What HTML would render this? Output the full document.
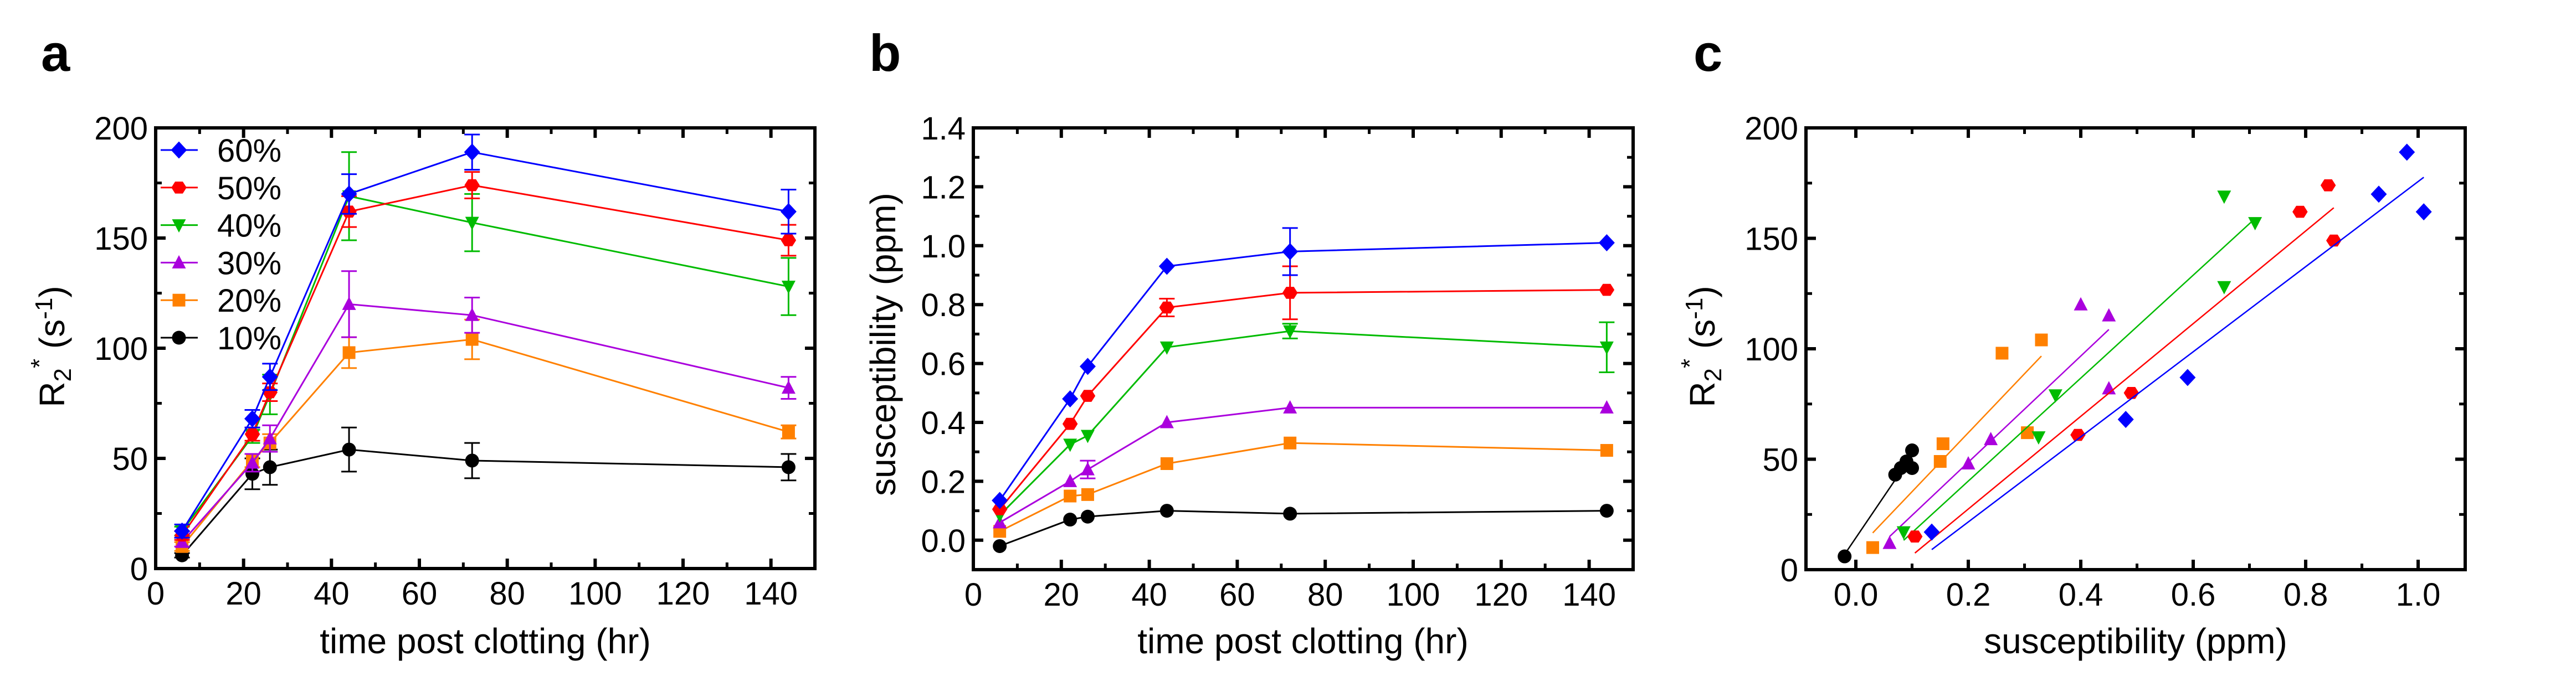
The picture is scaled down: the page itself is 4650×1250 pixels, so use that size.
<!DOCTYPE html>
<html><head><meta charset="utf-8"><style>
html,body{margin:0;padding:0;background:#fff;}
svg{display:block;font-family:"Liberation Sans",Arial,sans-serif;}
</style></head><body>
<svg id="fig" width="4650" height="1250" viewBox="0 0 4650 1250" xmlns="http://www.w3.org/2000/svg">
<rect x="0" y="0" width="4650" height="1250" fill="#fff"/>
</svg>
<script>
const times = [6, 22, 26, 44, 72, 144];
const seriesLabels = ['10%', '20%', '30%', '40%', '50%', '60%'];
const r2_10 = [6, 43, 46, 54, 49, 46];
const r2_20 = [10, 49, 57, 98, 104, 62];
const r2_30 = [12, 48, 59, 120, 115, 82];
const r2_40 = [17, 60, 79, 169, 157, 128];
const r2_50 = [15, 61, 80, 162, 174, 149];
const r2_60 = [17, 68, 87, 170, 189, 162];
const r2err_10 = [1, 7, 8, 10, 8, 6];
const r2err_20 = [2, 3, 4, 7, 9, 3];
const r2err_30 = [2, 4, 6, 15, 8, 5];
const r2err_40 = [2, 3, 9, 20, 13, 13];
const r2err_50 = [2, 3, 4, 7, 6, 7];
const r2err_60 = [3, 4, 6, 9, 8, 10];
const sus_10 = [-0.02, 0.07, 0.08, 0.10, 0.09, 0.10];
const sus_20 = [0.03, 0.15, 0.155, 0.26, 0.33, 0.305];
const sus_30 = [0.06, 0.20, 0.24, 0.40, 0.45, 0.45];
const sus_40 = [0.085, 0.325, 0.355, 0.655, 0.71, 0.655];
const sus_50 = [0.105, 0.395, 0.49, 0.79, 0.84, 0.85];
const sus_60 = [0.135, 0.48, 0.59, 0.93, 0.98, 1.01];
const suserr_10 = [0, 0, 0, 0, 0, 0];
const suserr_20 = [0, 0, 0, 0, 0, 0];
const suserr_30 = [0, 0, 0.03, 0, 0, 0];
const suserr_40 = [0, 0, 0, 0, 0.025, 0.085];
const suserr_50 = [0, 0, 0, 0.03, 0.09, 0];
const suserr_60 = [0, 0, 0, 0, 0.08, 0];
const tickA_x = ['0','20','40','60','80','100','120','140'];
const tickA_y = ['0','50','100','150','200'];
const tickB_y = ['0.0','0.2','0.4','0.6','0.8','1.0','1.2','1.4'];
const tickC_x = ['0.0','0.2','0.4','0.6','0.8','1.0'];

const colors = ['#000000','#ff8000','#aa00dd','#00bb00','#ff0000','#0000ff'];
const shapes = ['circle','square','up','down','hex','diamond'];
const R2 = [r2_10,r2_20,r2_30,r2_40,r2_50,r2_60];
const R2E = [r2err_10,r2err_20,r2err_30,r2err_40,r2err_50,r2err_60];
const SUS = [sus_10,sus_20,sus_30,sus_40,sus_50,sus_60];
const SUSE = [suserr_10,suserr_20,suserr_30,suserr_40,suserr_50,suserr_60];

const NS='http://www.w3.org/2000/svg';
const fig=document.getElementById('fig');
function mk(tag,attrs,parent){const e=document.createElementNS(NS,tag);for(const k in attrs)e.setAttribute(k,attrs[k]);(parent||fig).appendChild(e);return e;}

function marker(g,shape,cx,cy,color){
  const s=12.5;let e;
  if(shape==='circle'){e=mk('circle',{cx:cx,cy:cy,r:s},g);}
  else if(shape==='square'){e=mk('rect',{x:cx-s+1,y:cy-s+1,width:2*s-2,height:2*s-2},g);}
  else if(shape==='diamond'){e=mk('polygon',{points:`${cx},${cy-s-3} ${cx+s+2},${cy} ${cx},${cy+s+3} ${cx-s-2},${cy}`},g);}
  else if(shape==='up'){e=mk('polygon',{points:`${cx},${cy-s-1} ${cx+s},${cy+s-2} ${cx-s},${cy+s-2}`},g);}
  else if(shape==='down'){e=mk('polygon',{points:`${cx},${cy+s+1} ${cx+s},${cy-s+2} ${cx-s},${cy-s+2}`},g);}
  else {const p=[];for(let i=0;i<6;i++){const a=Math.PI/3*i;p.push((cx+s*1.1*Math.cos(a)).toFixed(1)+','+(cy+s*Math.sin(a)*1.0).toFixed(1));}e=mk('polygon',{points:p.join(' ')},g);}
  e.setAttribute('fill',color);
  
  
  return e;
}

function axes(P,opt){
  const g=mk('g',{});
  
  
  const L=P.x0,R=P.x1,T=P.y1,B=P.y0;
  // ticks
  function tk(v,maj,isX){
    const len=maj?18:11,w=maj?6:5;
    if(isX){const x=P.sx(v);
      mk('line',{x1:x,y1:B,x2:x,y2:B-len,stroke:'#000','stroke-width':w},g);
      mk('line',{x1:x,y1:T,x2:x,y2:T+len,stroke:'#000','stroke-width':w},g);}
    else{const y=P.sy(v);
      mk('line',{x1:L,y1:y,x2:L+len,y2:y,stroke:'#000','stroke-width':w},g);
      mk('line',{x1:R,y1:y,x2:R-len,y2:y,stroke:'#000','stroke-width':w},g);}
  }
  opt.xMinor.forEach(v=>tk(v,false,true));
  opt.xMajor.forEach(v=>tk(v,true,true));
  opt.yMinor.forEach(v=>tk(v,false,false));
  opt.yMajor.forEach(v=>tk(v,true,false));
  const fr=mk('rect',{x:L,y:T,width:R-L,height:B-T,fill:'none',stroke:'#000','stroke-width':6},g);
  
  
  opt.xMajor.forEach((v,i)=>{const t=mk('text',{x:P.sx(v),y:B+65,'font-size':58,'text-anchor':'middle'},g);t.textContent=opt.xLabels[i];
    
    });
  opt.yMajor.forEach((v,i)=>{const t=mk('text',{x:L-14,y:P.sy(v)+21,'font-size':58,'text-anchor':'end'},g);t.textContent=opt.yLabels[i];
    
    });
}
function panel(x0,x1,y0,y1,xmin,xmax,ymin,ymax){
  return {x0,x1,y0,y1,sx:v=>x0+(v-xmin)/(xmax-xmin)*(x1-x0),sy:v=>y0-(v-ymin)/(ymax-ymin)*(y0-y1)};
}
function range(a,b,s){const r=[];for(let v=a;v<=b+1e-9;v+=s)r.push(+v.toFixed(4));return r;}
function seriesPlot(P,Y,E,nameBase){
  for(let k=0;k<6;k++){
    const g=mk('g',{});
    
    
    const c=colors[k];
    const pts=times.map((t,i)=>P.sx(t).toFixed(1)+','+P.sy(Y[k][i]).toFixed(1)).join(' ');
    mk('polyline',{points:pts,fill:'none',stroke:c,'stroke-width':3},g);
    times.forEach((t,i)=>{const e=E[k][i];if(e>0){const x=P.sx(t),ya=P.sy(Y[k][i]+e),yb=P.sy(Y[k][i]-e);
      mk('line',{x1:x,y1:ya,x2:x,y2:yb,stroke:c,'stroke-width':3},g);
      mk('line',{x1:x-14,y1:ya,x2:x+14,y2:ya,stroke:c,'stroke-width':3},g);
      mk('line',{x1:x-14,y1:yb,x2:x+14,y2:yb,stroke:c,'stroke-width':3},g);}});
    times.forEach((t,i)=>marker(g,shapes[k],P.sx(t),P.sy(Y[k][i]),c));
  }
}
function txt(x,y,s,size,extra){const t=mk('text',Object.assign({x:x,y:y,'font-size':size},extra||{}));t.innerHTML=s;return t;}

// Panel a
const PA=panel(281,1471,1027,231,0,150,0,200);
axes(PA,{name:'panel-a',xMajor:range(0,140,20),xMinor:range(10,150,10),yMajor:range(0,200,50),yMinor:range(25,175,25),xLabels:tickA_x,yLabels:tickA_y});
seriesPlot(PA,R2,R2E,'panel-a');
// legend
const lg=mk('g',{});


for(let j=0;j<6;j++){const k=5-j;const y=271+j*67.8;
  const e=mk('g',{},lg);
  
  
  mk('line',{x1:290,y1:y,x2:357,y2:y,stroke:colors[k],'stroke-width':3},e);
  marker(e,shapes[k],323,y,colors[k]);
  const t=mk('text',{x:392,y:y+21,'font-size':58},e);t.textContent=seriesLabels[k];}
let t;
t=txt(74,128,'a',94,{'font-weight':'bold'});
t=txt(876,1180,'time post clotting (hr)',64,{'text-anchor':'middle'});
t=txt(0,0,'R<tspan font-size="44" dy="12">2</tspan><tspan font-size="44" dy="-42">*</tspan><tspan dy="30"> (s</tspan><tspan font-size="44" dy="-22">-1</tspan><tspan dy="22">)</tspan>',64,{'text-anchor':'middle',transform:'translate(116,626) rotate(-90)'});


// Panel b
const PB=panel(1757,2948,1029,231,0,150,-0.1,1.4);
axes(PB,{name:'panel-b',xMajor:range(0,140,20),xMinor:range(10,150,10),yMajor:range(0,1.4,0.2),yMinor:range(-0.1,1.3,0.2),xLabels:tickA_x,yLabels:tickB_y});
seriesPlot(PB,SUS,SUSE,'panel-b');
t=txt(1569,128,'b',94,{'font-weight':'bold'});
t=txt(2352,1180,'time post clotting (hr)',64,{'text-anchor':'middle'});
t=txt(0,0,'susceptibility (ppm)',64,{'text-anchor':'middle',transform:'translate(1616,622) rotate(-90)'});

// Panel c
const PC=panel(3260,4450,1029,231,-0.0887,1.0837,0,200);
axes(PC,{name:'panel-c',xMajor:range(0,1.0,0.2),xMinor:range(0.1,0.9,0.2),yMajor:range(0,200,50),yMinor:range(25,175,25),xLabels:tickC_x,yLabels:tickA_y});
for(let k=0;k<6;k++){
  const g=mk('g',{});
  
  
  const xs=SUS[k],ys=R2[k],n=xs.length;
  const mx=xs.reduce((a,b)=>a+b,0)/n,my=ys.reduce((a,b)=>a+b,0)/n;
  let sxy=0,sxx=0;for(let i=0;i<n;i++){sxy+=(xs[i]-mx)*(ys[i]-my);sxx+=(xs[i]-mx)**2;}
  const b=sxy/sxx,a=my-b*mx;const lo=Math.min(...xs),hi=Math.max(...xs);
  const fl=mk('line',{x1:PC.sx(lo),y1:PC.sy(a+b*lo),x2:PC.sx(hi),y2:PC.sy(a+b*hi),stroke:colors[k],'stroke-width':2.5},g);
  
  
  for(let i=0;i<n;i++)marker(g,shapes[k],PC.sx(xs[i]),PC.sy(ys[i]),colors[k]);
}
t=txt(3057,128,'c',94,{'font-weight':'bold'});
t=txt(3855,1180,'susceptibility (ppm)',64,{'text-anchor':'middle'});
t=txt(0,0,'R<tspan font-size="44" dy="12">2</tspan><tspan font-size="44" dy="-42">*</tspan><tspan dy="30"> (s</tspan><tspan font-size="44" dy="-22">-1</tspan><tspan dy="22">)</tspan>',64,{'text-anchor':'middle',transform:'translate(3095,626) rotate(-90)'});

</script>
</body></html>
